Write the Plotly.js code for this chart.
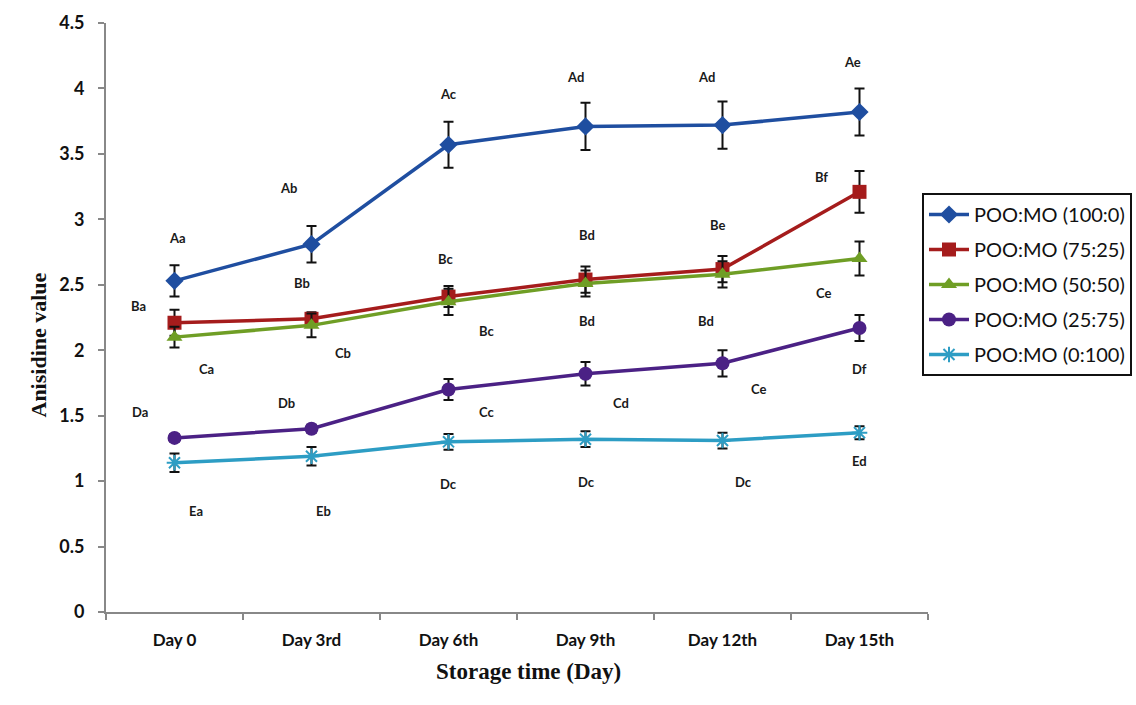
<!DOCTYPE html>
<html>
<head>
<meta charset="utf-8">
<script src="https://cdn.plot.ly/plotly-3.0.1.min.js"></script>
<style>html,body{margin:0;padding:0;background:#fff;}#chart{width:1136px;height:705px;}</style>
</head>
<body>
<div id="chart"></div>
<script>
// Categories
const days = ["Day 0", "Day 3rd", "Day 6th", "Day 9th", "Day 12th", "Day 15th"];

// Series names
const seriesNames = ["POO:MO (100:0)", "POO:MO (75:25)", "POO:MO (50:50)", "POO:MO (25:75)", "POO:MO (0:100)"];

// Series values (anisidine value)
const poo100 = [2.53, 2.81, 3.57, 3.71, 3.72, 3.82];
const poo75  = [2.21, 2.24, 2.41, 2.54, 2.62, 3.21];
const poo50  = [2.10, 2.19, 2.37, 2.51, 2.58, 2.70];
const poo25  = [1.33, 1.40, 1.70, 1.82, 1.90, 2.17];
const poo0   = [1.14, 1.19, 1.30, 1.32, 1.31, 1.37];

// Error values
const err100 = [0.12, 0.14, 0.175, 0.18, 0.18, 0.18];
const err75  = [0.10, 0.05, 0.08, 0.10, 0.10, 0.16];
const err50  = [0.08, 0.09, 0.10, 0.10, 0.10, 0.13];
const err25  = [0.03, 0.03, 0.08, 0.09, 0.10, 0.10];
const err0   = [0.07, 0.07, 0.06, 0.06, 0.06, 0.05];

// Significance letters
const letterText = ["Aa","Ab","Ac","Ad","Ad","Ae",
                    "Ba","Bb","Bc","Bd","Be","Bf",
                    "Ca","Cb","Bc","Bd","Bd","Ce",
                    "Da","Db","Cc","Cd","Ce","Df",
                    "Ea","Eb","Dc","Dc","Dc","Ed"];
const letterX = [0.02, 0.83, 2.0, 2.93, 3.88, 4.95,
                 -0.26, 0.93, 1.98, 3.01, 3.96, 4.72,
                 0.23, 1.23, 2.28, 3.01, 3.88, 4.74,
                 -0.25, 0.82, 2.28, 3.26, 4.26, 5.0,
                 0.16, 1.09, 2.0, 3.01, 4.15, 5.0];
const letterY = [2.86, 3.24, 3.96, 4.09, 4.09, 4.20,
                 2.34, 2.51, 2.70, 2.88, 2.96, 3.32,
                 1.86, 1.98, 2.15, 2.22, 2.22, 2.44,
                 1.53, 1.60, 1.53, 1.60, 1.70, 1.86,
                 0.77, 0.77, 0.98, 0.99, 0.99, 1.15];

const colors = ["#1f4ea0", "#a51c1c", "#6f9e25", "#4b2185", "#2d9dc4"];
const symbols = ["diamond", "square", "triangle-up", "circle", "asterisk-open"];
const sizes = [14, 14, 14, 14, 13];
const values = [poo100, poo75, poo50, poo25, poo0];
const errs = [err100, err75, err50, err25, err0];

const traces = values.map((v, i) => ({
  x: days,
  y: v,
  name: seriesNames[i],
  legendgroup: "g" + i,
  type: "scatter",
  mode: "lines+markers",
  line: {color: colors[i], width: 3.5},
  marker: {symbol: symbols[i], size: sizes[i], color: colors[i],
           line: {color: colors[i], width: i === 4 ? 2 : 0}},
  error_y: {type: "data", array: errs[i], visible: true, color: "#111", thickness: 2, width: 5}
}));

const sans = "Lato, 'Noto Sans', sans-serif";
const serif = "'Liberation Serif', 'Times New Roman', serif";

const annotations = letterText.map((t, i) => ({
  x: letterX[i], y: letterY[i], xref: "x", yref: "y",
  text: t, showarrow: false,
  font: {family: sans, size: 13, color: "#1a1a1a", weight: "bold"}
}));

annotations.push({
  xref: "paper", yref: "paper", x: (528 - 106) / 822, y: -(686 - 612) / 589,
  text: "<b>Storage time (Day)</b>", showarrow: false,
  font: {family: serif, size: 23, color: "#111"}
});
annotations.push({
  xref: "paper", yref: "paper", x: -(106 - 23) / 822, y: (612 - 345) / 589,
  text: "<b>Anisidine value</b>", showarrow: false, textangle: -90,
  font: {family: serif, size: 22, color: "#111"}
});

const layout = {
  width: 1136, height: 705,
  margin: {l: 106, r: 208, t: 23, b: 93, autoexpand: false},
  paper_bgcolor: "#fff", plot_bgcolor: "#fff",
  showlegend: true,
  legend: {
    x: (922 - 106) / 822, xanchor: "left",
    y: (612 - 193) / 589, yanchor: "top",
    bordercolor: "#111", borderwidth: 2, bgcolor: "#fff",
    font: {family: sans, size: 20, color: "#111"},
    tracegroupgap: 6, itemwidth: 40
  },
  xaxis: {
    type: "category", range: [-0.5, 5.5],
    showline: true, linecolor: "#888", linewidth: 2,
    ticks: "outside", tickson: "boundaries", ticklen: 6, tickcolor: "#888", tickwidth: 2,
    showgrid: false, zeroline: false,
    tickfont: {family: sans, size: 17, color: "#111", weight: "bold"},
    ticklabelstandoff: 12
  },
  yaxis: {
    range: [0, 4.5], dtick: 0.5, tick0: 0,
    showline: true, linecolor: "#888", linewidth: 2,
    ticks: "outside", ticklen: 6, tickcolor: "#888", tickwidth: 2,
    showgrid: false, zeroline: false,
    tickfont: {family: sans, size: 18, color: "#111", weight: "bold"},
    ticklabelstandoff: 10
  },
  annotations: annotations
};

Plotly.newPlot("chart", traces, layout, {displayModeBar: false, staticPlot: true});
</script>
</body>
</html>
